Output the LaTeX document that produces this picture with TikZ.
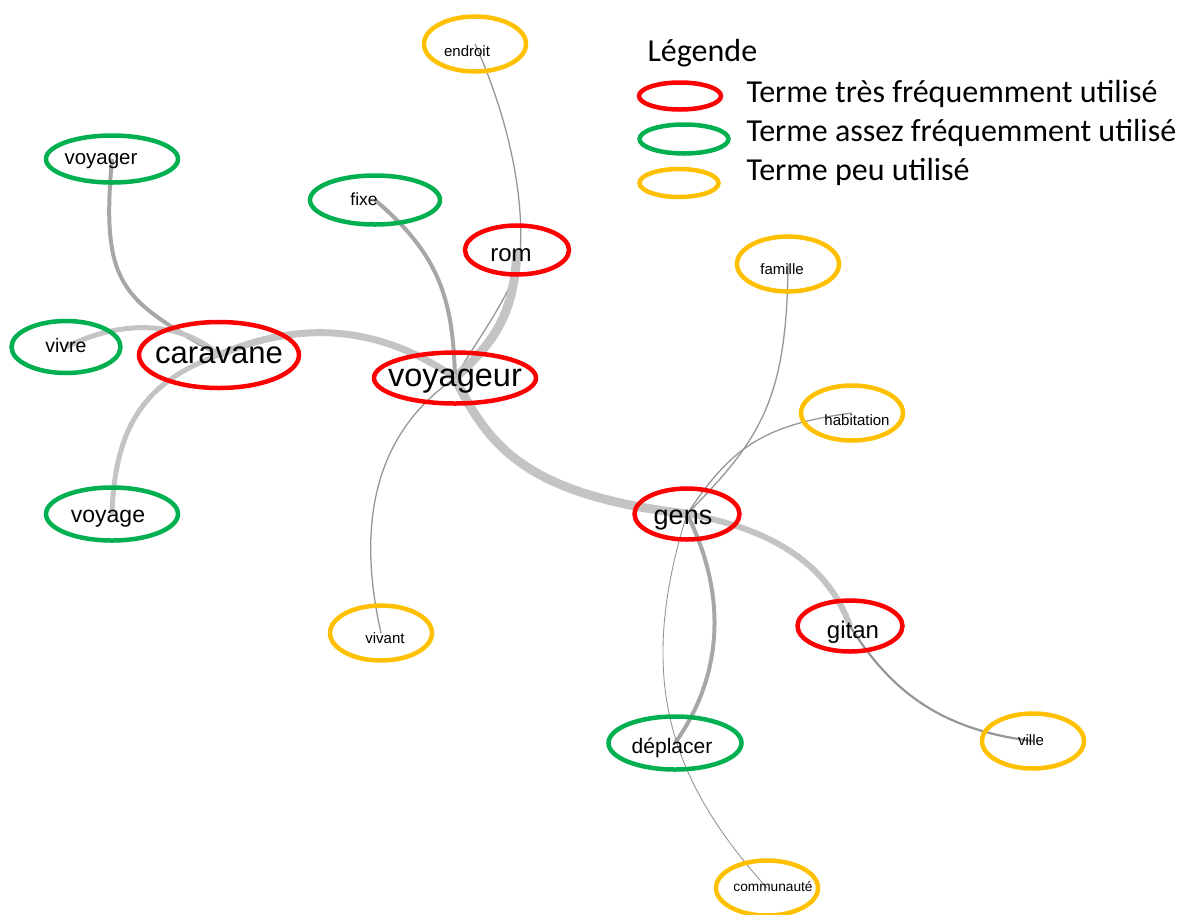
\documentclass[tikz,border=0pt]{standalone}
\usepackage{fontspec}
\setmainfont{Liberation Sans}
\newfontfamily\legendfont{Carlito}
\usetikzlibrary{shapes.geometric, backgrounds}
\definecolor{termred}{RGB}{255,0,0}
\definecolor{termgreen}{RGB}{0,176,80}
\definecolor{termyellow}{RGB}{255,192,0}
\definecolor{linkgray}{RGB}{196,196,196}
\definecolor{threadgray}{RGB}{150,150,150}
% word that does not widen its ellipse, moved by (#1,#2) from its centre
\newcommand{\tword}[3]{\makebox[0pt]{\kern#1\raisebox{\dimexpr-0.27em-#2\relax}[0pt][0pt]{\makebox[0pt]{#3}}\kern-#1}}

\begin{document}
\begin{tikzpicture}[x=1pt, y=-1pt,
  term/.style={ellipse, line width=4.5pt, inner sep=0pt},
  often/.style={term, draw=termred},
  fairly/.style={term, draw=termgreen},
  rare/.style={term, draw=termyellow, minimum width=102pt, minimum height=55pt, font=\fontsize{15}{17}\selectfont},
  link/.style={draw=linkgray, line width=#1},
  thread/.style={draw=threadgray, line width=#1},
  keytext/.style={anchor=west, font=\legendfont\fontsize{32}{34}\selectfont}]
  \useasboundingbox (0,0) rectangle (1184,914);

  % central terms
  \node[often, minimum width=160pt, minimum height=66pt, font=\fontsize{31}{33}\selectfont] (caravane) at (219,355) {\tword{0pt}{0pt}{caravane}};
  \node[often, minimum width=162pt, minimum height=51pt, font=\fontsize{32.5}{34}\selectfont] (voyageur) at (455,378) {\tword{0pt}{0pt}{voyageur}};
  \node[often, minimum width=104pt, minimum height=49pt, font=\fontsize{24}{26}\selectfont] (rom) at (517,250) {\tword{-6pt}{5pt}{rom}};
  \node[often, minimum width=105pt, minimum height=51pt, font=\fontsize{27}{29}\selectfont] (gens) at (687,514) {\tword{-4pt}{3pt}{gens}};
  \node[often, minimum width=105pt, minimum height=51pt, font=\fontsize{24}{26}\selectfont] (gitan) at (850,626) {\tword{3pt}{6pt}{gitan}};

  % fairly frequent terms
  \node[fairly, minimum width=132pt, minimum height=47pt, font=\fontsize{20.5}{22}\selectfont] (voyager) at (112,159) {\tword{-11pt}{0pt}{voyager}};
  \node[fairly, minimum width=109pt, minimum height=52pt, font=\fontsize{19.5}{21}\selectfont] (vivre) at (66,347) {\tword{0pt}{0pt}{vivre}};
  \node[fairly, minimum width=132pt, minimum height=53pt, font=\fontsize{23}{25}\selectfont] (voyage) at (112,514) {\tword{-4pt}{2pt}{voyage}};
  \node[fairly, minimum width=130pt, minimum height=49pt, font=\fontsize{17.5}{19}\selectfont] (fixe) at (375,200) {\tword{-11pt}{1pt}{fixe}};
  \node[fairly, minimum width=133pt, minimum height=53pt, font=\fontsize{21}{23}\selectfont] (deplacer) at (675,743) {\tword{-3pt}{5pt}{déplacer}};

  % rare terms
  \node[rare] (endroit) at (475,44) {\tword{-8pt}{8pt}{endroit}};
  \node[rare] (famille) at (788,264) {\tword{-6pt}{6pt}{famille}};
  \node[rare] (habitation) at (852,413) {\tword{5pt}{8pt}{habitation}};
  \node[rare] (vivant) at (381,633) {\tword{4pt}{6pt}{vivant}};
  \node[rare] (ville) at (1033,741) {\tword{-2pt}{0pt}{ville}};
  \node[rare, font=\fontsize{13.7}{15}\selectfont] (communaute) at (767,888) {\tword{6pt}{0pt}{communauté}};

  \begin{scope}[on background layer]
    \draw[thread=1.3pt] (endroit.center) .. controls (505,110) and (525,190) .. (520,255)
      .. controls (515,290) and (480,335) .. (voyageur.center);
    \draw[link=9pt] (rom.center) .. controls (514,320) and (490,345) .. (voyageur.center);
    \draw[link=4pt, draw=linkgray!85!black] (fixe.center) .. controls (440,255) and (453,300) .. (voyageur.center);
    \draw[link=7pt] (caravane.center) .. controls (300,320) and (380,325) .. (voyageur.center);
    \draw[link=4pt, draw=linkgray!85!black] (voyager.center) .. controls (100,290) and (125,300) .. (caravane.center);
    \draw[link=5pt] (vivre.center) .. controls (120,320) and (180,320) .. (caravane.center);
    \draw[link=5pt] (voyage.center) .. controls (115,420) and (150,380) .. (caravane.center);
    \draw[thread=1.3pt] (vivant.center) .. controls (360,540) and (365,440) .. (voyageur.center);
    \draw[link=9pt] (voyageur.center) .. controls (490,450) and (530,495) .. (gens.center);
    \draw[thread=1.3pt] (gens.center) .. controls (760,440) and (787,400) .. (famille.center);
    \draw[thread=1.3pt] (gens.center) .. controls (730,450) and (760,425) .. (habitation.center);
    \draw[link=6pt] (gens.center) .. controls (780,530) and (830,570) .. (gitan.center);
    \draw[thread=2.2pt] (gitan.center) .. controls (890,690) and (940,730) .. (ville.center);
    \draw[link=4pt, draw=linkgray!85!black] (gens.center) .. controls (730,600) and (720,680) .. (deplacer.center);
    \draw[thread=0.9pt] (gens.center) .. controls (635,680) and (670,780) .. (communaute.center);
  \end{scope}

  % legend
  \node[keytext] (legendtitle) at (644,53) {Légende};
  \node[often, minimum width=82pt, minimum height=27pt] (keyred) at (680,96) {};
  \node[fairly, minimum width=89pt, minimum height=29pt] (keygreen) at (684,139) {};
  \node[term, draw=termyellow, minimum width=79pt, minimum height=28pt] (keyyellow) at (679,183) {};
  \node[keytext] (keyredtext) at (743,94) {Terme très fréquemment utilisé};
  \node[keytext] (keygreentext) at (743,133) {Terme assez fréquemment utilisé};
  \node[keytext] (keyyellowtext) at (743,172) {Terme peu utilisé};
\end{tikzpicture}
\end{document}
